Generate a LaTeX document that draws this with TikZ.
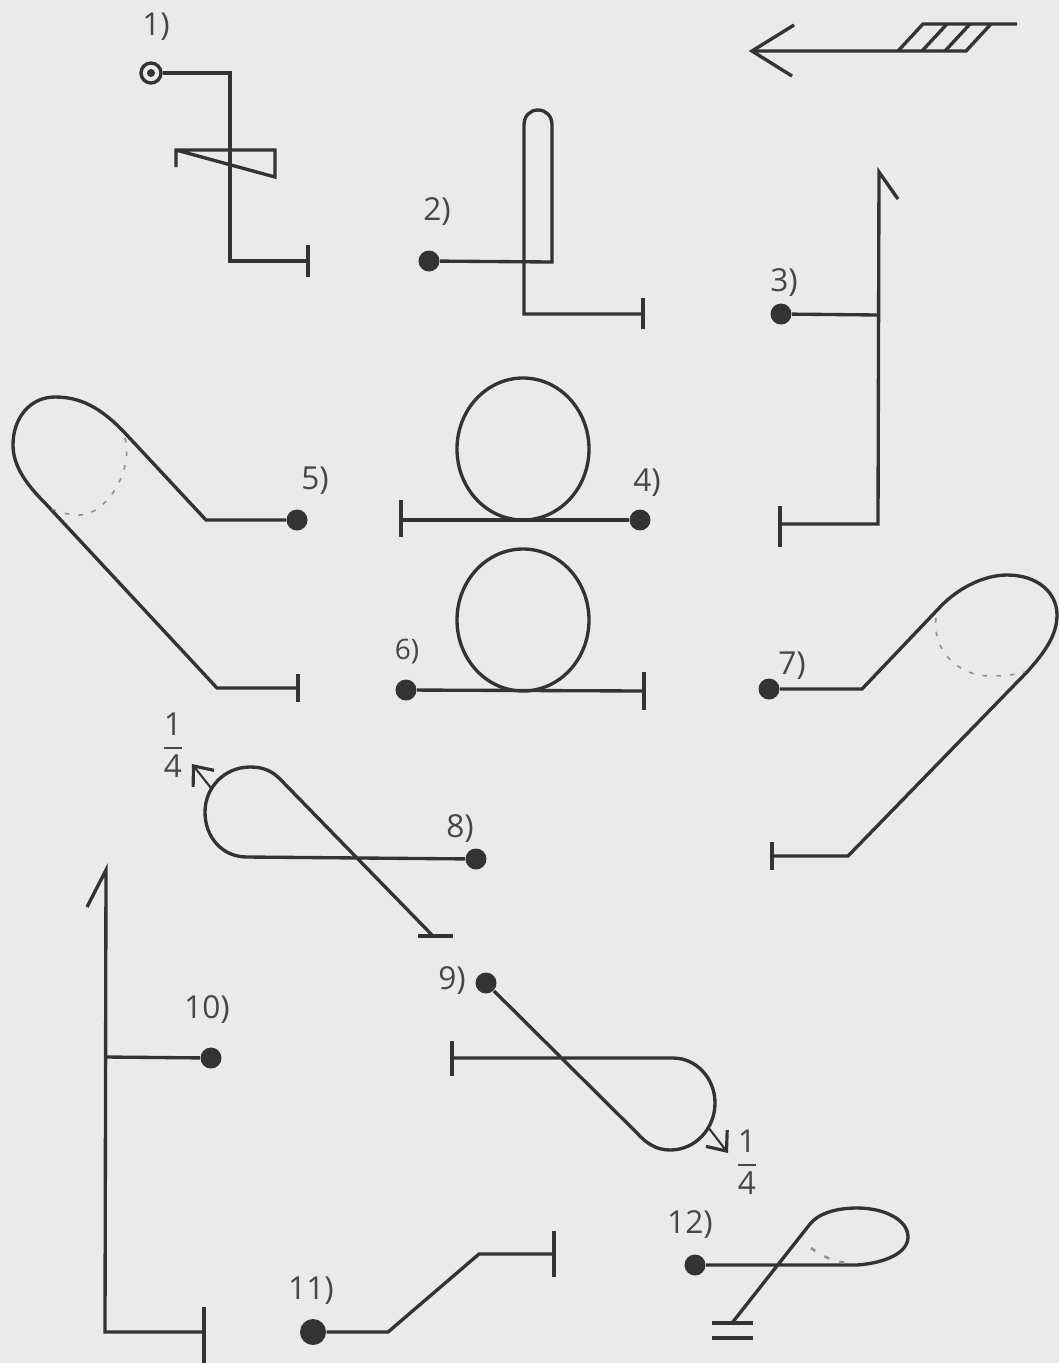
\documentclass[tikz,border=0pt]{standalone}
\usepackage{amsmath}
\usepackage{fontspec}
\setmainfont{Open Sans}
\usepackage{tikz}
\usepackage{xcolor}
\usetikzlibrary{arrows.meta}

\definecolor{pagegray}{HTML}{EAEAEA}
\definecolor{inkgray}{HTML}{333333}

\tikzset{
    wire/.style={draw=inkgray,line width=0.95pt,line join=miter},
    hidden/.style={draw=inkgray!55,line width=0.45pt,dash pattern=on 1.3pt off 2.6pt},
    quarter/.style={draw=inkgray,line width=0.6pt,-{Straight Barb[length=4.6pt,width=7.6pt,line width=0.9pt]}},
    startdot/.style={circle,fill=inkgray,inner sep=0pt,minimum size=0.21cm},
    numlabel/.style={text=inkgray!90,font=\fontsize{9}{11}\selectfont,inner sep=0pt}
}

\begin{document}
\begin{tikzpicture}[x=0.01cm,y=-0.01cm]

    \fill[pagegray] (0,0) rectangle (1059,1363);
    \useasboundingbox (0,0) rectangle (1059,1363);

    %------------------------------------------------
    % Direction arrow with hatched tail
    %------------------------------------------------

    \draw[wire]
        (794,25)--(752,51)--(792,76);

    \draw[wire]
        (752,51)--(966,51)--(991,24);

    \draw[wire]
        (898,51)--(923,24)--(1017,24);

    \draw[wire] (922,51)--(947,24);
    \draw[wire] (945,51)--(970,24);

    %------------------------------------------------
    % Line 1
    %------------------------------------------------

    \node[numlabel] (labA) at (156,27) {1)};

    \node[circle,draw=inkgray,line width=0.95pt,inner sep=0pt,minimum size=0.2cm] (dotA) at (151,73) {};
    \fill[inkgray] (dotA) circle (4);

    \draw[wire]
        (dotA)--(230,73)--(230,261)--(308,261);

    \draw[wire] (308,245)--(308,277);

    \draw[wire]
        (176,167)--(176,150)--(275,150)--(275,177)--(176,150);

    %------------------------------------------------
    % Line 2
    %------------------------------------------------

    \node[numlabel] (labB) at (437,212) {2)};
    \node[startdot] (dotB) at (429,261) {};

    \draw[wire]
        (dotB)--(552,262)--(552,125)
        .. controls (552,116) and (546,110) .. (538,110)
        .. controls (530,110) and (524,116) .. (524,125)
        --(524,314)--(643,314);

    \draw[wire] (643,298)--(643,329);

    %------------------------------------------------
    % Line 3
    %------------------------------------------------

    \node[numlabel] (labC) at (784,283) {3)};
    \node[startdot] (dotC) at (781,314) {};

    \draw[wire] (dotC)--(878,315);

    \draw[wire]
        (780,524)--(878,524)--(879,172)--(898,199);

    \draw[wire] (780,506)--(780,547);

    %------------------------------------------------
    % Line 4
    %------------------------------------------------

    \node[numlabel] (labD) at (647,483) {4)};
    \node[startdot] (dotD) at (640,520) {};

    \draw[wire] (dotD)--(401,520);
    \draw[wire] (401,500)--(401,537);
    \draw[wire] (523,449) ellipse (66 and 71);

    %------------------------------------------------
    % Line 5
    %------------------------------------------------

    \node[numlabel] (labE) at (315,481) {5)};
    \node[startdot] (dotE) at (297,520) {};

    \draw[wire]
        (dotE)--(206,520)--(124,432)
        .. controls (100,407) and (80,397) .. (55,397)
        .. controls (30,397) and (13,418) .. (13,445)
        .. controls (13,465) and (25,483) .. (45,503)
        --(217,688)--(298,688);

    \draw[wire] (298,674)--(298,702);

    \draw[hidden]
        (125,438) .. controls (134,472) and (105,515) .. (80,515)
        .. controls (70,515) and (60,513) .. (50,508);

    %------------------------------------------------
    % Line 6
    %------------------------------------------------

    \node[numlabel,font=\fontsize{8}{10}\selectfont] (labF) at (407,652) {6)};
    \node[startdot] (dotF) at (406,690) {};

    \draw[wire] (dotF)--(644,691);
    \draw[wire] (644,672)--(644,710);
    \draw[wire] (523,620) ellipse (66 and 71);

    %------------------------------------------------
    % Line 7
    %------------------------------------------------

    \node[numlabel] (labG) at (792,666) {7)};
    \node[startdot] (dotG) at (769,689) {};

    \draw[wire]
        (dotG)--(862,689)--(942,605)
        .. controls (960,587) and (985,575) .. (1007,575)
        .. controls (1038,575) and (1057,593) .. (1057,615)
        .. controls (1057,635) and (1045,652) .. (1027,672)
        --(848,856)--(772,856);

    \draw[wire] (772,842)--(772,870);

    \draw[hidden]
        (936,618) .. controls (932,650) and (958,676) .. (990,676)
        .. controls (1002,676) and (1015,675) .. (1025,672);

    %------------------------------------------------
    % Line 8
    %------------------------------------------------

    \node[numlabel] (labH) at (460,829) {8)};
    \node[startdot] (dotH) at (476,859) {};

    \draw[wire]
        (dotH)--(247,857)
        .. controls (222,857) and (205,837) .. (205,812)
        .. controls (205,787) and (225,767) .. (250,767)
        .. controls (262,767) and (271,770) .. (280,779)
        --(433,936);

    \draw[wire] (418,936)--(453,936);

    \draw[quarter] (211,788)--(192,764);

    \node[numlabel] (fracA) at (173,745) {$\dfrac{\text{1}}{\text{4}}$};

    %------------------------------------------------
    % Line 9
    %------------------------------------------------

    \node[numlabel] (labI) at (452,981) {9)};
    \node[startdot] (dotI) at (486,983) {};

    \draw[wire]
        (dotI)--(637,1133)
        .. controls (646,1143) and (656,1150) .. (670,1150)
        .. controls (696,1150) and (715,1128) .. (715,1103)
        .. controls (715,1078) and (696,1058) .. (673,1058)
        --(453,1058);

    \draw[wire] (452,1041)--(452,1076);

    \draw[quarter] (708,1127)--(728,1153);

    \node[numlabel] (fracB) at (747,1162) {$\dfrac{\text{1}}{\text{4}}$};

    %------------------------------------------------
    % Line 10
    %------------------------------------------------

    \node[numlabel] (labJ) at (207,1010) {10)};
    \node[startdot] (dotJ) at (211,1058) {};

    \draw[wire] (dotJ)--(106,1057);

    \draw[wire]
        (204,1332)--(105,1332)--(106,870)--(87,907);

    \draw[wire] (204,1307)--(204,1363);

    %------------------------------------------------
    % Line 11
    %------------------------------------------------

    \node[numlabel] (labK) at (311,1291) {11)};
    \node[startdot,minimum size=0.26cm] (dotK) at (313,1332) {};

    \draw[wire]
        (dotK)--(388,1332)--(479,1254)--(554,1254);

    \draw[wire] (554,1231)--(554,1277);

    %------------------------------------------------
    % Line 12
    %------------------------------------------------

    \node[numlabel] (labL) at (690,1225) {12)};
    \node[startdot] (dotL) at (695,1265) {};

    \draw[wire]
        (dotL)--(857,1265)
        .. controls (885,1263) and (908,1253) .. (908,1237)
        .. controls (908,1220) and (885,1208) .. (857,1208)
        .. controls (835,1208) and (818,1214) .. (810,1224)
        --(732,1323);

    \draw[wire] (712,1323)--(753,1323);
    \draw[wire] (712,1338)--(753,1338);

    \draw[hidden,line width=0.7pt,dash pattern=on 1.5pt off 3pt]
        (811,1248) .. controls (822,1256) and (832,1261) .. (846,1263);

\end{tikzpicture}
\end{document}
